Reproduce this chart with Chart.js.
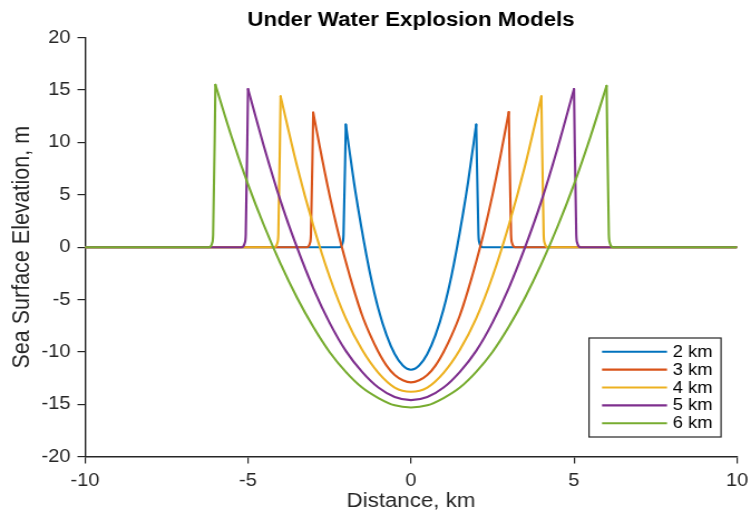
<!DOCTYPE html>
<html lang="en">
<head>
    <meta charset="UTF-8">
    <title>Under Water Explosion Models</title>
    <script src="https://cdn.jsdelivr.net/npm/chart.js"></script>
    <style>
        html, body { margin: 0; padding: 0; background: #fff; }
    </style>
</head>
<body>
    <!-- drawn at 674 wide and stretched to 751, like the reference picture -->
    <canvas id="chart" width="674" height="514" style="width:751px;height:514px;"></canvas>

    <script>
        // distance (km) and sea surface elevation (m)
        const labels = ['2 km', '3 km', '4 km', '5 km', '6 km'];
        const colors = ['#0072BD', '#D95319', '#EDB120', '#7E2F8E', '#77AC30'];

        const x2 = [-10, -2.2, -2.14, -2.1, -2.07, -2, -1.75, -1.5, -1.25, -1, -0.75, -0.5, -0.25, 0,
                    0.25, 0.5, 0.75, 1, 1.25, 1.5, 1.75, 2, 2.07, 2.1, 2.14, 2.2, 10];
        const y2 = [0, 0, 0.1, 0.4, 1.2, 11.7, 6.2, 1.5, -2.6, -5.9, -8.4, -10.2, -11.3, -11.7,
                    -11.3, -10.2, -8.4, -5.9, -2.6, 1.5, 6.2, 11.7, 1.2, 0.4, 0.1, 0, 0];

        const x3 = [-10, -3.2, -3.14, -3.1, -3.07, -3, -2.75, -2.5, -2.25, -2, -1.75, -1.5, -1.25, -1, -0.75, -0.5, -0.25, 0,
                    0.25, 0.5, 0.75, 1, 1.25, 1.5, 1.75, 2, 2.25, 2.5, 2.75, 3, 3.07, 3.1, 3.14, 3.2, 10];
        const y3 = [0, 0, 0.1, 0.4, 1.2, 12.85, 8.8, 5.0, 1.6, -1.4, -4.1, -6.5, -8.4, -10.0, -11.3, -12.2, -12.7, -12.9,
                    -12.7, -12.2, -11.3, -10.0, -8.4, -6.5, -4.1, -1.4, 1.6, 5.0, 8.8, 12.9, 1.2, 0.4, 0.1, 0, 0];

        const x4 = [-10, -4.2, -4.14, -4.1, -4.07, -4, -3.5, -3, -2.5, -2, -1.5, -1, -0.5, 0,
                    0.5, 1, 1.5, 2, 2.5, 3, 3.5, 4, 4.07, 4.1, 4.14, 4.2, 10];
        const y4 = [0, 0, 0.1, 0.4, 1.2, 14.4, 7.8, 2.1, -2.8, -6.8, -9.8, -12.0, -13.4, -13.8,
                    -13.4, -12.0, -9.8, -6.8, -2.8, 2.1, 7.8, 14.4, 1.2, 0.4, 0.1, 0, 0];

        const x5 = [-10, -5.2, -5.14, -5.1, -5.07, -5, -4.5, -4, -3.5, -3, -2.5, -2, -1.5, -1, -0.5, 0,
                    0.5, 1, 1.5, 2, 2.5, 3, 3.5, 4, 4.5, 5, 5.07, 5.1, 5.14, 5.2, 10];
        const y5 = [0, 0, 0.1, 0.4, 1.2, 15.1, 9.5, 4.4, 0.0, -3.9, -7.2, -9.9, -11.9, -13.4, -14.3, -14.6,
                    -14.3, -13.4, -11.9, -9.9, -7.2, -3.9, 0.0, 4.4, 9.5, 15.1, 1.2, 0.4, 0.1, 0, 0];

        const x6 = [-10, -6.2, -6.14, -6.1, -6.07, -6, -5.5, -5, -4.5, -4, -3.5, -3, -2.5, -2, -1.5, -1, -0.5, 0,
                    0.5, 1, 1.5, 2, 2.5, 3, 3.5, 4, 4.5, 5, 5.5, 6, 6.07, 6.1, 6.14, 6.2, 10];
        const y6 = [0, 0, 0.1, 0.4, 1.2, 15.5, 10.5, 6.0, 2.0, -1.6, -4.8, -7.6, -10.0, -11.9, -13.4, -14.4, -15.1, -15.3,
                    -15.1, -14.4, -13.4, -11.9, -10.0, -7.6, -4.8, -1.6, 2.0, 6.0, 10.5, 15.4, 1.2, 0.4, 0.1, 0, 0];

        const xTicks = [-10, -5, 0, 5, 10];
        const yTicks = [-20, -15, -10, -5, 0, 5, 10, 15, 20];

        const series = [[x2, y2], [x3, y3], [x4, y4], [x5, y5], [x6, y6]];
        const ink = '#262626';
        const family = '"Liberation Sans", Arial, Helvetica, sans-serif';

        // each curve is split at its two peaks so the smooth parts keep sharp tips
        const datasets = [];
        series.forEach(([xs, ys], i) => {
            const pts = xs.map((x, j) => ({ x: x, y: ys[j] }));
            const peakL = 5, peakR = xs.length - 6;
            [pts.slice(0, peakL + 1), pts.slice(peakL, peakR + 1), pts.slice(peakR)].forEach((part, k) => {
                datasets.push({
                    label: labels[i],
                    data: part,
                    borderColor: colors[i],
                    borderWidth: 2.1,
                    borderCapStyle: 'round',
                    borderJoinStyle: 'round',
                    pointRadius: 0,
                    cubicInterpolationMode: 'monotone',
                    fill: false,
                    order: series.length - i,
                    part: k
                });
            });
        });

        // legend drawn inside the axes, lower right, like matlab
        const legendBox = {
            id: 'legendBox',
            afterDraw(chart) {
                const ctx = chart.ctx;
                const left = 528.6, top = 338, w = 118.5, h = 99;
                ctx.save();
                ctx.fillStyle = '#fff';
                ctx.fillRect(left, top, w, h);
                ctx.strokeStyle = ink;
                ctx.lineWidth = 1.2;
                ctx.strokeRect(left, top, w, h);
                ctx.font = '16.5px ' + family;
                ctx.textBaseline = 'middle';
                ctx.textAlign = 'left';
                chart.data.datasets.filter(ds => ds.part === 0).forEach((ds, i) => {
                    const y = 351.7 + i * 17.9;
                    ctx.strokeStyle = ds.borderColor;
                    ctx.lineWidth = 2.1;
                    ctx.beginPath();
                    ctx.moveTo(540.3, y);
                    ctx.lineTo(598.6, y);
                    ctx.stroke();
                    ctx.fillStyle = '#000';
                    ctx.fillText(ds.label, 603.7, y + 0.5);
                });
                ctx.restore();
            }
        };

        const chart = new Chart(document.getElementById('chart'), {
            type: 'line',
            data: { datasets: datasets },
            options: {
                responsive: false,
                maintainAspectRatio: false,
                devicePixelRatio: 1,
                animation: false,
                layout: { padding: { left: 0, right: 12.6, top: 0, bottom: 0 } },
                plugins: {
                    legend: { display: false },
                    tooltip: { enabled: false },
                    title: {
                        display: true,
                        text: 'Under Water Explosion Models',
                        fullSize: false,
                        color: '#000',
                        font: { family: family, size: 20, weight: 'bold' },
                        padding: { top: 8.5, bottom: 5.2 }
                    }
                },
                scales: {
                    x: {
                        type: 'linear',
                        min: -10,
                        max: 10,
                        afterBuildTicks: s => { s.ticks = xTicks.map(v => ({ value: v })); },
                        afterFit: s => { s.height = 57.3; s.paddingLeft = 0; s.paddingRight = 0; },
                        ticks: { color: ink, font: { family: family, size: 18 }, padding: 7, maxRotation: 0 },
                        grid: { drawOnChartArea: false, tickLength: 6.8, color: ink, lineWidth: 1.2 },
                        border: { color: ink, width: 1.4 },
                        title: {
                            display: true, text: 'Distance, km', color: ink,
                            font: { family: family, size: 20 }, padding: { top: 0, bottom: 1 }
                        }
                    },
                    y: {
                        min: -20,
                        max: 20,
                        afterBuildTicks: s => { s.ticks = yTicks.map(v => ({ value: v })); },
                        afterFit: s => { s.width = 76.3; s.paddingTop = 0; s.paddingBottom = 0; },
                        ticks: { color: ink, font: { family: family, size: 18 }, padding: 6.3 },
                        grid: { drawOnChartArea: false, tickLength: 6.8, color: ink, lineWidth: 1.2 },
                        border: { color: ink, width: 1.4 },
                        title: {
                            display: true, text: 'Sea Surface Elevation, m', color: ink,
                            font: { family: family, size: 21.5 }, padding: { top: 7.3, bottom: 0 }
                        }
                    }
                }
            },
            plugins: [legendBox]
        });
    </script>
</body>
</html>
